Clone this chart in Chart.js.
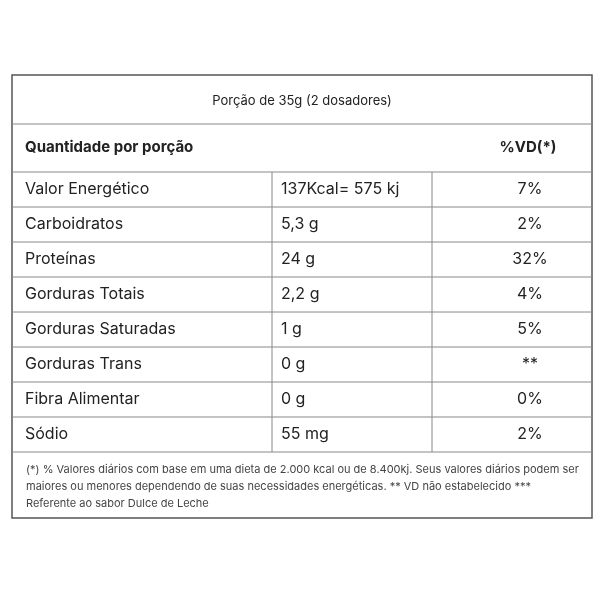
<!DOCTYPE html>
<html>
<head>
<meta charset="utf-8">
<script src="https://cdn.jsdelivr.net/npm/chart.js@4"></script>
<style>body{margin:0;background:#fff}</style>
</head>
<body>
<canvas id="tabela" width="600" height="600"></canvas>
<script>
var porcao = 'Porção de 35g (2 dosadores)';
var nutrientes = ['Valor Energético', 'Carboidratos', 'Proteínas', 'Gorduras Totais',
  'Gorduras Saturadas', 'Gorduras Trans', 'Fibra Alimentar', 'Sódio'];
var quantidades = ['137Kcal= 575 kj', '5,3 g', '24 g', '2,2 g', '1 g', '0 g', '0 g', '55 mg'];
var vd = ['7%', '2%', '32%', '4%', '5%', '**', '0%', '2%'];
var rodape = [
  '(*) % Valores diários com base em uma dieta de 2.000 kcal ou de 8.400kj. Seus valores diários podem ser',
  'maiores ou menores dependendo de suas necessidades energéticas. ** VD não estabelecido ***',
  'Referente ao sabor Dulce de Leche'
];

var desenhaTabela = {
  id: 'desenhaTabela',
  afterDraw: function(chart) {
    var c = chart.ctx, x = chart.scales.x, y = chart.scales.y;
    function px(v) { return x.getPixelForValue(v); }
    function py(v) { return y.getPixelForValue(v); }
    c.save();
    // moldura
    c.strokeStyle = '#555'; c.lineWidth = 1.5;
    c.strokeRect(px(12), py(75), px(592) - px(12), py(518) - py(75));
    c.strokeStyle = '#888'; c.lineWidth = 1;
    function linha(x1, y1, x2, y2) {
      c.beginPath(); c.moveTo(px(x1), py(y1)); c.lineTo(px(x2), py(y2)); c.stroke();
    }
    var topo = 172, passo = 35;
    linha(12, 124, 592, 124);
    linha(12, topo, 592, topo);
    for (var i = 1; i <= nutrientes.length; i++) linha(12, topo + passo * i, 592, topo + passo * i);
    linha(272, topo, 272, topo + passo * nutrientes.length);
    linha(432, topo, 432, topo + passo * nutrientes.length);

    c.fillStyle = '#222'; c.textBaseline = 'middle';
    c.font = '13px Inter'; c.textAlign = 'center';
    c.fillText(porcao, px(302), py(101));
    c.font = 'bold 15px Inter'; c.textAlign = 'left';
    c.fillText('Quantidade por porção', px(25), py(147));
    c.textAlign = 'center';
    c.fillText('%VD(*)', px(528), py(147));
    c.font = '16px Inter';
    nutrientes.forEach(function(n, i) {
      var yy = topo + passo * i + passo / 2;
      c.textAlign = 'left';
      c.fillText(n, px(25), py(yy));
      c.fillText(quantidades[i], px(281), py(yy));
      c.textAlign = 'center';
      c.fillText(vd[i], px(530), py(yy));
    });
    c.font = '11px Inter'; c.fillStyle = '#444'; c.textAlign = 'left';
    rodape.forEach(function(t, i) { c.fillText(t, px(26), py(470 + 17 * i)); });
    c.restore();
  }
};

new Chart(document.getElementById('tabela').getContext('2d'), {
  type: 'scatter',
  data: { datasets: [{ data: [] }] },
  options: {
    responsive: false,
    animation: false,
    layout: { padding: 0 },
    plugins: { legend: { display: false }, tooltip: { enabled: false } },
    scales: {
      x: { type: 'linear', min: 0, max: 600, display: false },
      y: { type: 'linear', min: 0, max: 600, reverse: true, display: false }
    }
  },
  plugins: [desenhaTabela]
});
</script>
</body>
</html>
